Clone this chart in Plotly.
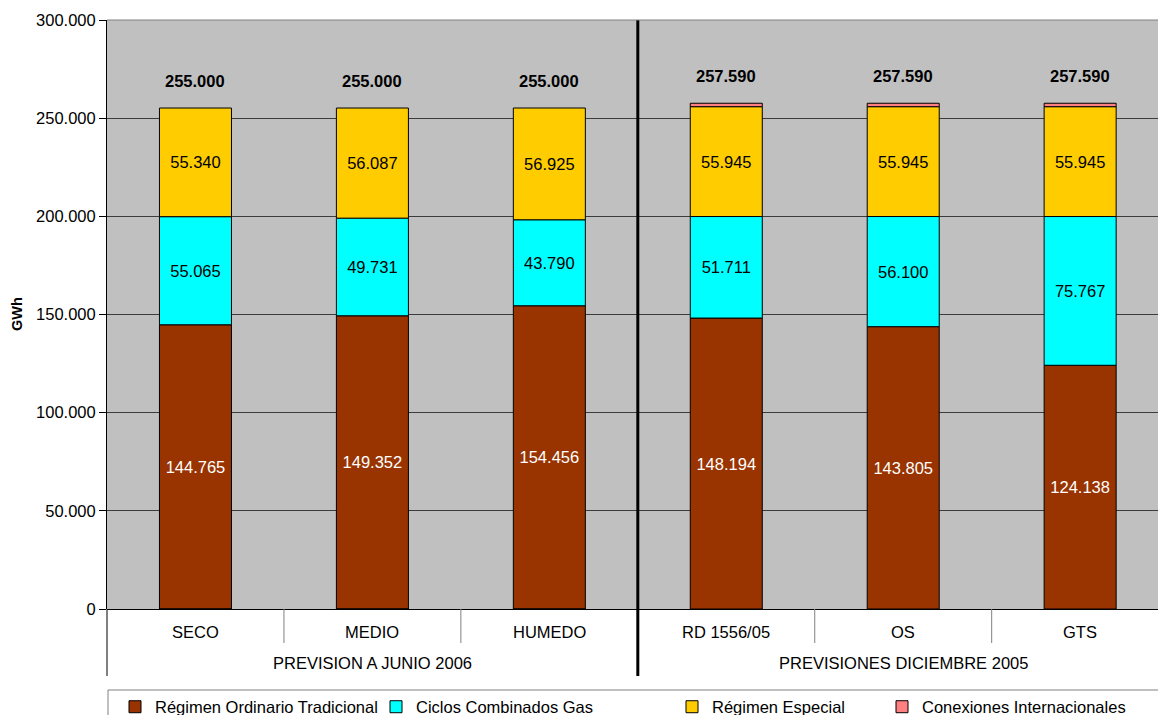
import plotly.graph_objects as go

# Escenarios y grupos de previsión
categorias = ["SECO", "MEDIO", "HUMEDO", "RD 1556/05", "OS", "GTS"]
grupos = ["PREVISION A JUNIO 2006", "PREVISIONES DICIEMBRE 2005"]
grupo_centro = [1, 4]  # índice de la categoría central de cada grupo

# Energía por tecnología (GWh)
ordinario = [144765, 149352, 154456, 148194, 143805, 124138]
ciclos = [55065, 49731, 43790, 51711, 56100, 75767]
especial = [55340, 56087, 56925, 55945, 55945, 55945]
conexiones = [-170, -170, -171, 1740, 1740, 1740]

series = [
    ("Régimen Ordinario Tradicional", ordinario, "#993300", "white", True),
    ("Ciclos Combinados Gas", ciclos, "#00FFFF", "black", True),
    ("Régimen Especial", especial, "#FFCC00", "black", True),
    ("Conexiones Internacionales", conexiones, "#FF8080", "black", False),
]

totales = [sum(v) for v in zip(ordinario, ciclos, especial, conexiones)]

FONT = "Liberation Sans, Arial, sans-serif"
FS = 16.5
W, H = 1158, 715
ML, MT, MB = 107, 20, 106
PLOT_H = H - MT - MB


def py(pixel_y):
    """Convierte una coordenada vertical en píxeles a fracción del área de trazado."""
    return (H - MB - pixel_y) / PLOT_H


fig = go.Figure()

legend_x = [155, 416, 712, 922]
for i, (nombre, valores, color, color_txt, con_texto) in enumerate(series):
    fig.add_trace(go.Bar(
        x=categorias,
        y=valores,
        name=nombre,
        width=0.407,
        marker=dict(color=color, line=dict(color="black", width=1)),
        texttemplate="%{y:,.0f}" if con_texto else None,
        textposition="inside" if con_texto else "none",
        insidetextanchor="middle",
        textangle=0,
        textfont=dict(size=FS, color=color_txt, family=FONT),
        legend="legend" if i == 0 else f"legend{i + 1}",
        hoverinfo="x+y+name",
    ))

# Totales sobre cada columna
annotations = []
for cat, tot in zip(categorias, totales):
    annotations.append(dict(
        x=cat, y=tot, xref="x", yref="y",
        text="<b>" + f"{tot:,.0f}".replace(",", ".") + "</b>",
        showarrow=False, yshift=27, yanchor="middle",
        font=dict(size=FS, color="black", family=FONT),
    ))

# Etiquetas de categoría y de grupo bajo el eje
for cat in categorias:
    annotations.append(dict(
        x=cat, y=py(632), xref="x", yref="paper", text=cat,
        showarrow=False, yanchor="middle",
        font=dict(size=FS, color="black", family=FONT),
    ))
for g, c in zip(grupos, grupo_centro):
    annotations.append(dict(
        x=c, y=py(663), xref="x", yref="paper", text=g,
        showarrow=False, yanchor="middle",
        font=dict(size=FS, color="black", family=FONT),
    ))

# Título del eje vertical
annotations.append(dict(
    x=(17 - ML) / (W - ML), y=py(314), xref="paper", yref="paper",
    text="<b>GWh</b>", textangle=-90, showarrow=False,
    xanchor="center", yanchor="middle",
    font=dict(size=14.5, color="black", family=FONT),
))

shapes = []
# Separadores finos entre escenarios
for xv in [0.5, 1.5, 3.5, 4.5]:
    shapes.append(dict(type="line", xref="x", yref="paper",
                       x0=xv, x1=xv, y0=0, y1=py(643),
                       line=dict(color="#808080", width=1)))
# Separador grueso entre grupos
shapes.append(dict(type="line", xref="x", yref="paper",
                   x0=2.5, x1=2.5, y0=1, y1=py(676),
                   line=dict(color="black", width=3)))
# Prolongación del eje izquierdo
shapes.append(dict(type="line", xref="paper", yref="paper",
                   x0=0, x1=0, y0=0, y1=py(676),
                   line=dict(color="black", width=1)))
# Borde superior del área de trazado
shapes.append(dict(type="line", xref="paper", yref="paper",
                   x0=0, x1=1, y0=1, y1=1,
                   line=dict(color="#808080", width=1)))
# Marco de la leyenda
shapes.append(dict(type="rect", xref="paper", yref="paper",
                   x0=(108 - ML) / (W - ML), x1=1.02, y0=py(690), y1=py(740),
                   line=dict(color="#808080", width=1), fillcolor="white",
                   layer="below"))

legends = {}
for i, lx in enumerate(legend_x):
    key = "legend" if i == 0 else f"legend{i + 1}"
    legends[key] = dict(
        x=(lx - 40 - ML) / (W - ML), xanchor="left",
        y=py(707), yanchor="middle",
        orientation="h", bgcolor="rgba(0,0,0,0)", borderwidth=0,
        font=dict(size=FS, color="black", family=FONT),
    )

fig.update_layout(
    width=W, height=H,
    margin=dict(l=ML, r=0, t=MT, b=MB, autoexpand=False),
    barmode="relative",
    separators=",.",
    paper_bgcolor="white",
    plot_bgcolor="#C0C0C0",
    font=dict(family=FONT, size=FS, color="black"),
    xaxis=dict(
        range=[-0.5, 5.44], showticklabels=False, ticks="",
        showgrid=False, showline=False, zeroline=False, fixedrange=True,
    ),
    yaxis=dict(
        range=[0, 300000], dtick=50000, tickformat=",.0f",
        showgrid=True, gridcolor="#3c3c3c", gridwidth=1,
        zeroline=True, zerolinecolor="black", zerolinewidth=1,
        showline=True, linecolor="black", linewidth=1,
        ticks="outside", ticklen=7, tickcolor="black",
        tickfont=dict(size=FS, color="black", family=FONT),
        fixedrange=True,
    ),
    annotations=annotations,
    shapes=shapes,
    showlegend=True,
    **legends,
)

fig.write_html("out.html", config={"displayModeBar": False})
